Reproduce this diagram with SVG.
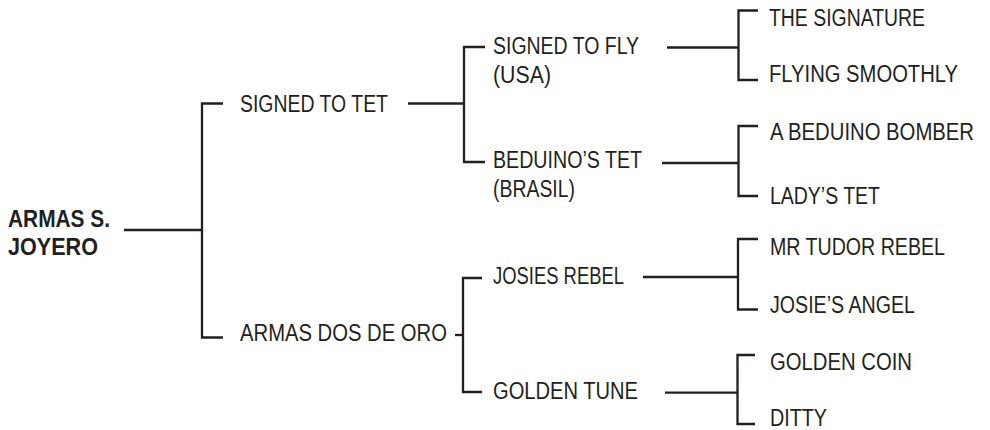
<svg xmlns="http://www.w3.org/2000/svg" width="990" height="430" viewBox="0 0 990 430">
<style>
  text { font-family: "Liberation Sans", Arial, sans-serif; font-size: 23px; fill: #231f20; }
  .b { font-weight: bold; }
  .c { fill: none; stroke: #231f20; stroke-width: 2.3; stroke-linejoin: miter; stroke-linecap: butt; }
</style>
<rect width="990" height="430" fill="#ffffff"/>
<g id="connectors">
  <path class="c" d="M124,230 H202"/>
  <path class="c" d="M223,103.5 H202 V337.5 H223"/>
  <path class="c" d="M408,103.5 H464"/>
  <path class="c" d="M485,47 H464 V162 H485"/>
  <path class="c" d="M455,335 H463"/>
  <path class="c" d="M482,278 H463 V392 H482"/>
  <path class="c" d="M667,47.5 H738.5"/>
  <path class="c" d="M758,10.5 H738.5 V80 H758"/>
  <path class="c" d="M662,163 H738.5"/>
  <path class="c" d="M758,126 H738.5 V196 H758"/>
  <path class="c" d="M643,277 H738"/>
  <path class="c" d="M758,239 H738 V309.5 H758"/>
  <path class="c" d="M665,392.7 H737.5"/>
  <path class="c" d="M755,355 H737.5 V424 H755"/>
</g>
<g id="armas-s-joyero">
  <text class="b" x="8" y="227" textLength="102" lengthAdjust="spacingAndGlyphs">ARMAS S.</text>
  <text class="b" x="8" y="255" textLength="90" lengthAdjust="spacingAndGlyphs">JOYERO</text>
</g>
<g id="signed-to-tet">
  <text x="240" y="112" textLength="148" lengthAdjust="spacingAndGlyphs">SIGNED TO TET</text>
</g>
<g id="armas-dos-de-oro">
  <text x="240" y="341" textLength="207" lengthAdjust="spacingAndGlyphs">ARMAS DOS DE ORO</text>
</g>
<g id="signed-to-fly">
  <text x="493" y="54" textLength="146" lengthAdjust="spacingAndGlyphs">SIGNED TO FLY</text>
  <text x="493" y="83" textLength="58" lengthAdjust="spacingAndGlyphs">(USA)</text>
</g>
<g id="beduinos-tet">
  <text x="493" y="168" textLength="149" lengthAdjust="spacingAndGlyphs">BEDUINO’S TET</text>
  <text x="493" y="197" textLength="82" lengthAdjust="spacingAndGlyphs">(BRASIL)</text>
</g>
<g id="josies-rebel">
  <text x="493" y="284" textLength="131" lengthAdjust="spacingAndGlyphs">JOSIES REBEL</text>
</g>
<g id="golden-tune">
  <text x="493" y="398.5" textLength="145" lengthAdjust="spacingAndGlyphs">GOLDEN TUNE</text>
</g>
<g id="the-signature">
  <text x="769" y="26" textLength="156" lengthAdjust="spacingAndGlyphs">THE SIGNATURE</text>
</g>
<g id="flying-smoothly">
  <text x="769" y="82" textLength="189" lengthAdjust="spacingAndGlyphs">FLYING SMOOTHLY</text>
</g>
<g id="a-beduino-bomber">
  <text x="770" y="139.5" textLength="204" lengthAdjust="spacingAndGlyphs">A BEDUINO BOMBER</text>
</g>
<g id="ladys-tet">
  <text x="770" y="203.5" textLength="110" lengthAdjust="spacingAndGlyphs">LADY’S TET</text>
</g>
<g id="mr-tudor-rebel">
  <text x="770" y="255" textLength="175" lengthAdjust="spacingAndGlyphs">MR TUDOR REBEL</text>
</g>
<g id="josies-angel">
  <text x="770" y="313" textLength="145" lengthAdjust="spacingAndGlyphs">JOSIE’S ANGEL</text>
</g>
<g id="golden-coin">
  <text x="770" y="369.5" textLength="142" lengthAdjust="spacingAndGlyphs">GOLDEN COIN</text>
</g>
<g id="ditty">
  <text x="770" y="426" textLength="57" lengthAdjust="spacingAndGlyphs">DITTY</text>
</g>
</svg>
